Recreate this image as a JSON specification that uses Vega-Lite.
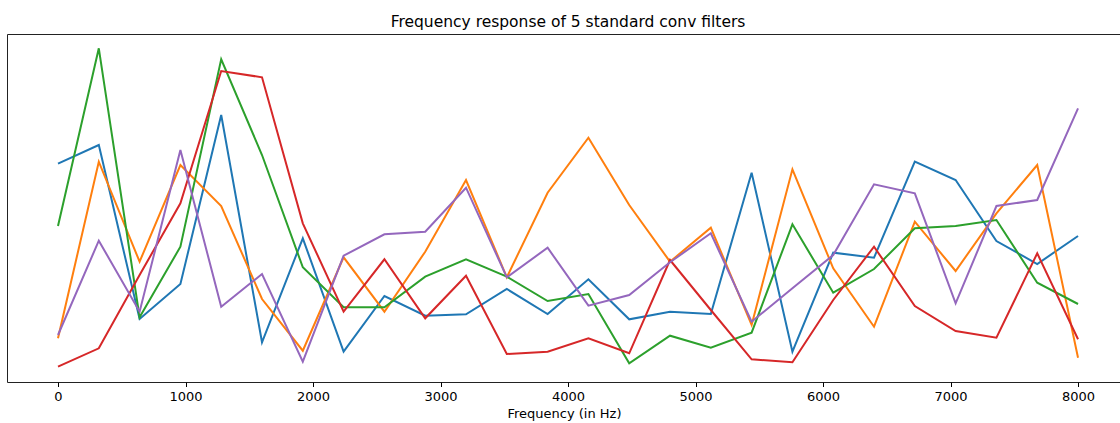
{
  "$schema": "https://vega.github.io/schema/vega-lite/v6.json",
  "width": 1114,
  "height": 348,
  "autosize": "none",
  "padding": {"left": 7, "top": 34, "right": 0, "bottom": 41},
  "background": "white",
  "config": {"view": {"stroke": "#222", "strokeWidth": 1}},
  "title": {
    "text": "Frequency response of 5 standard conv filters",
    "font": "DejaVu Sans",
    "fontSize": 15.5,
    "fontWeight": "normal",
    "color": "#000",
    "anchor": "middle",
    "baseline": "alphabetic",
    "offset": -8,
    "dx": 4
  },
  "data": {
    "values": [
      {"freq": 0, "filter 1": 218.3, "filter 2": 43.7, "filter 3": 156, "filter 4": 15.3, "filter 5": 47},
      {"freq": 320, "filter 1": 237, "filter 2": 220.3, "filter 3": 333.7, "filter 4": 33.7, "filter 5": 141.3},
      {"freq": 640, "filter 1": 63, "filter 2": 120.3, "filter 3": 64.7, "filter 4": 107, "filter 5": 70.3},
      {"freq": 960, "filter 1": 98, "filter 2": 217, "filter 3": 135.3, "filter 4": 178.7, "filter 5": 232},
      {"freq": 1280, "filter 1": 267, "filter 2": 176, "filter 3": 322.7, "filter 4": 311, "filter 5": 75.3},
      {"freq": 1600, "filter 1": 39.7, "filter 2": 83, "filter 3": 227, "filter 4": 304.7, "filter 5": 108},
      {"freq": 1920, "filter 1": 143.7, "filter 2": 31.3, "filter 3": 114.7, "filter 4": 158.7, "filter 5": 20.3},
      {"freq": 2240, "filter 1": 30.3, "filter 2": 124.7, "filter 3": 74.7, "filter 4": 70.3, "filter 5": 126.3},
      {"freq": 2560, "filter 1": 86, "filter 2": 70.3, "filter 3": 74.7, "filter 4": 122.7, "filter 5": 147.7},
      {"freq": 2880, "filter 1": 66.3, "filter 2": 130.3, "filter 3": 105.3, "filter 4": 63.7, "filter 5": 150.3},
      {"freq": 3200, "filter 1": 67.7, "filter 2": 202, "filter 3": 122.7, "filter 4": 106.3, "filter 5": 194.3},
      {"freq": 3520, "filter 1": 93, "filter 2": 104.7, "filter 3": 105.3, "filter 4": 28, "filter 5": 104.7},
      {"freq": 3840, "filter 1": 68, "filter 2": 189.3, "filter 3": 81, "filter 4": 30.3, "filter 5": 134.3},
      {"freq": 4160, "filter 1": 102.7, "filter 2": 244.3, "filter 3": 88, "filter 4": 43.7, "filter 5": 76.3},
      {"freq": 4480, "filter 1": 62.7, "filter 2": 177, "filter 3": 18.7, "filter 4": 28.7, "filter 5": 87},
      {"freq": 4800, "filter 1": 70.3, "filter 2": 120.3, "filter 3": 46.3, "filter 4": 122, "filter 5": 119.7},
      {"freq": 5120, "filter 1": 68, "filter 2": 154.3, "filter 3": 34.3, "filter 4": 72, "filter 5": 148.7},
      {"freq": 5440, "filter 1": 209.3, "filter 2": 57, "filter 3": 49.3, "filter 4": 22.7, "filter 5": 60.3},
      {"freq": 5760, "filter 1": 30.3, "filter 2": 212.7, "filter 3": 157.7, "filter 4": 19.7, "filter 5": 93.7},
      {"freq": 6080, "filter 1": 129.3, "filter 2": 113.7, "filter 3": 89.3, "filter 4": 82, "filter 5": 127},
      {"freq": 6400, "filter 1": 124.3, "filter 2": 55.3, "filter 3": 113, "filter 4": 135.3, "filter 5": 197.7},
      {"freq": 6720, "filter 1": 220.3, "filter 2": 160.3, "filter 3": 153.7, "filter 4": 76, "filter 5": 188.7},
      {"freq": 7040, "filter 1": 202, "filter 2": 111, "filter 3": 156, "filter 4": 51, "filter 5": 78.7},
      {"freq": 7360, "filter 1": 141, "filter 2": 168.7, "filter 3": 162, "filter 4": 44.3, "filter 5": 176},
      {"freq": 7680, "filter 1": 118, "filter 2": 217, "filter 3": 99.3, "filter 4": 128.7, "filter 5": 182},
      {"freq": 8000, "filter 1": 146, "filter 2": 24.3, "filter 3": 78, "filter 4": 42.7, "filter 5": 273.7}
    ]
  },
  "transform": [
    {"fold": ["filter 1", "filter 2", "filter 3", "filter 4", "filter 5"], "as": ["filter", "magnitude"]}
  ],
  "mark": {"type": "line", "strokeWidth": 2, "interpolate": "linear"},
  "encoding": {
    "x": {
      "field": "freq",
      "type": "quantitative",
      "scale": {"domain": [-400, 8337], "nice": false, "zero": false},
      "axis": {
        "values": [0, 1000, 2000, 3000, 4000, 5000, 6000, 7000, 8000],
        "format": "d",
        "grid": false,
        "domain": false,
        "labelFlush": false,
        "labelOverlap": false,
        "labelFont": "DejaVu Sans",
        "labelFontSize": 13,
        "labelColor": "#000",
        "labelPadding": 4,
        "tickSize": 4.5,
        "tickColor": "#000",
        "tickWidth": 1,
        "title": "Frequency (in Hz)",
        "titleFont": "DejaVu Sans",
        "titleFontSize": 13,
        "titleFontWeight": "normal",
        "titleColor": "#000",
        "titlePadding": 4
      }
    },
    "y": {
      "field": "magnitude",
      "type": "quantitative",
      "scale": {"domain": [0, 348], "nice": false, "zero": false},
      "axis": null
    },
    "color": {
      "field": "filter",
      "type": "nominal",
      "scale": {"domain": ["filter 1", "filter 2", "filter 3", "filter 4", "filter 5"], "range": ["#1f77b4", "#ff7f0e", "#2ca02c", "#d62728", "#9467bd"]},
      "legend": null
    }
  }
}
